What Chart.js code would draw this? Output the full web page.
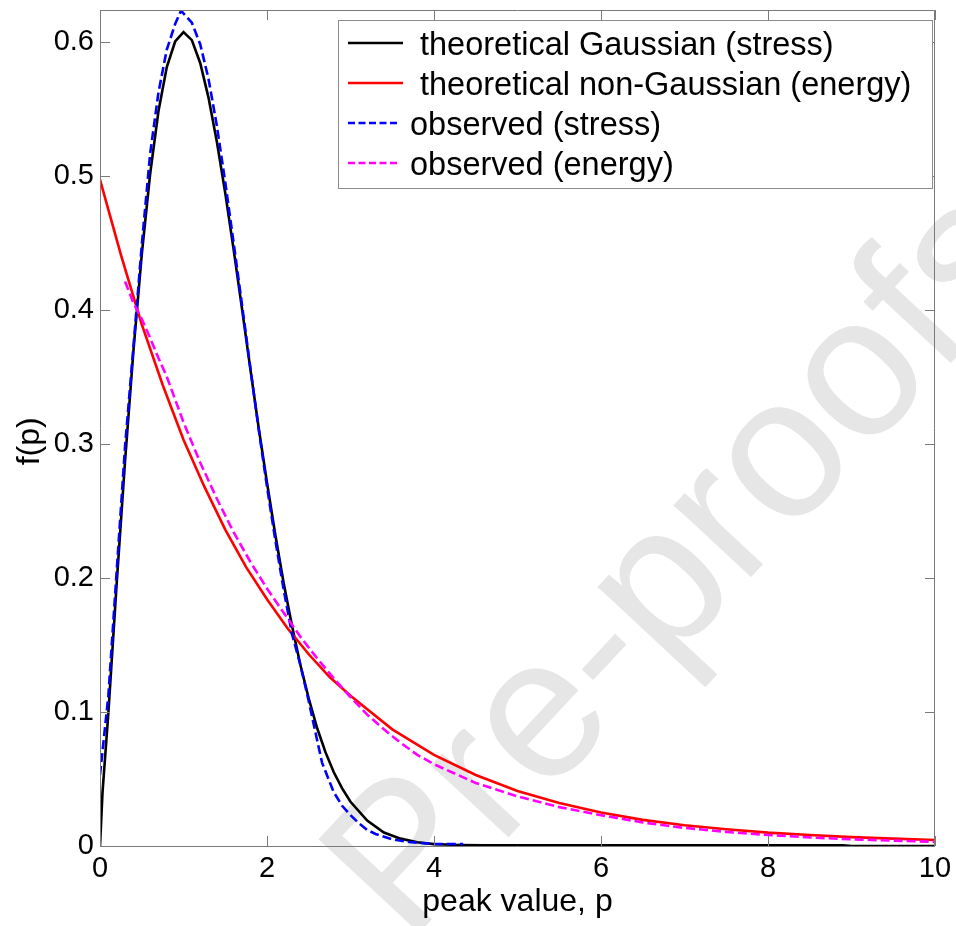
<!DOCTYPE html>
<html><head><meta charset="utf-8">
<script src="https://cdn.jsdelivr.net/npm/chart.js@4.4.0/dist/chart.umd.min.js"></script>
<style>html,body{margin:0;padding:0;background:#fff;}canvas{display:block;}</style>
</head><body>
<canvas id="c" width="956" height="926"></canvas>
<script>
// ---- data ----
const pTheoStress = [0,0.03,0.1,0.2,0.3,0.4,0.5,0.6,0.7,0.8,0.9,1.0,1.1,1.2,1.3,1.4,1.5,1.6,1.7,1.8,1.9,2.0,2.1,2.2,2.3,2.4,2.5,2.6,2.7,2.8,2.9,3.0,3.2,3.4,3.6,3.8,4.0,4.3,4.6,5.0,6.0,7.0,8.0,8.9,9.0,10];
const fTheoStress = [0,0.04,0.099,0.196,0.287,0.369,0.441,0.501,0.548,0.581,0.600,0.607,0.601,0.584,0.558,0.525,0.487,0.445,0.401,0.356,0.312,0.271,0.232,0.196,0.164,0.135,0.110,0.088,0.070,0.055,0.043,0.033,0.019,0.010,0.0055,0.0028,0.0014,0.0008,0.0006,0.0006,0.0006,0.0006,0.0006,0.0006,0,0];

const pTheoEnergy = [0,0.25,0.5,0.75,1.0,1.25,1.5,1.75,2.0,2.25,2.5,2.75,3.0,3.5,4.0,4.5,5.0,5.5,6.0,6.5,7.0,7.5,8.0,8.5,9.0,9.5,10];
const fTheoEnergy = [0.497,0.441,0.389,0.344,0.303,0.268,0.236,0.208,0.184,0.162,0.143,0.126,0.112,0.087,0.068,0.053,0.041,0.032,0.025,0.0195,0.0155,0.0125,0.0100,0.0082,0.0066,0.0055,0.0045];

const pObsStress = [0,0.1,0.2,0.3,0.4,0.5,0.6,0.7,0.8,0.9,0.97,1.1,1.2,1.3,1.4,1.5,1.6,1.7,1.8,1.9,2.0,2.1,2.2,2.3,2.4,2.5,2.6,2.66,2.8,2.9,3.0,3.1,3.2,3.3,3.5,3.7,4.0,4.35];
const fObsStress = [0.053,0.112,0.205,0.298,0.372,0.448,0.516,0.562,0.594,0.613,0.623,0.614,0.598,0.572,0.537,0.495,0.450,0.404,0.357,0.311,0.268,0.228,0.191,0.158,0.135,0.108,0.079,0.062,0.040,0.030,0.023,0.017,0.012,0.009,0.005,0.003,0.0015,0.0015];

const pObsEnergy = [0.3,0.4,0.5,0.6,0.7,0.8,1.0,1.2,1.4,1.6,1.8,2.0,2.2,2.4,2.6,2.8,3.0,3.2,3.4,3.6,3.8,4.0,4.5,5.0,5.5,6.0,6.5,7.0,7.5,8.0,8.5,9.0,9.5,10];
const fObsEnergy = [0.421,0.405,0.393,0.379,0.364,0.350,0.316,0.286,0.259,0.234,0.212,0.192,0.174,0.156,0.140,0.125,0.111,0.098,0.087,0.077,0.068,0.061,0.047,0.037,0.029,0.023,0.0175,0.0135,0.0105,0.0082,0.0064,0.0050,0.0040,0.0031];

const seriesLabels = ['theoretical Gaussian (stress)','theoretical non-Gaussian (energy)','observed (stress)','observed (energy)'];
const xTickStep = 2, yTickStep = 0.1;
const xTitle = 'peak value, p', yTitle = 'f(p)   ';
const watermark = 'Pre-proofs';

const zip = (xs, ys) => xs.map((x, i) => ({x, y: ys[i]}));
const FONT = '"Liberation Sans", Arial, sans-serif';

const bgAndMark = {
  id: 'bgAndMark',
  beforeDraw(chart) {
    const ctx = chart.ctx;
    ctx.save();
    ctx.fillStyle = '#fff';
    ctx.fillRect(0, 0, chart.width, chart.height);
    ctx.translate(408, 945);
    ctx.rotate(-47 * Math.PI / 180);
    ctx.fillStyle = '#e6e6e6';
    ctx.font = '200px ' + FONT;
    ctx.textBaseline = 'alphabetic';
    ctx.fillText(watermark, 0, 0);
    ctx.restore();
  }
};

const frameAndLegend = {
  id: 'frameAndLegend',
  afterDraw(chart) {
    const ctx = chart.ctx;
    const {left, right, top, bottom} = chart.chartArea;
    const xs = chart.scales.x, ys = chart.scales.y;
    ctx.save();
    ctx.strokeStyle = '#7a7a7a';
    ctx.lineWidth = 1;
    ctx.beginPath();
    ctx.rect(left + 0.5, top + 0.5, right - left - 1, bottom - top);
    xs.ticks.forEach(t => {
      const px = Math.round(xs.getPixelForValue(t.value)) + 0.5;
      ctx.moveTo(px, bottom); ctx.lineTo(px, bottom - 10);
      ctx.moveTo(px, top); ctx.lineTo(px, top + 10);
    });
    ys.ticks.forEach(t => {
      const py = Math.round(ys.getPixelForValue(t.value)) + 0.5;
      ctx.moveTo(left, py); ctx.lineTo(left + 10, py);
      ctx.moveTo(right, py); ctx.lineTo(right - 10, py);
    });
    ctx.stroke();

    // legend
    const bx = 338.5, by = 20.5, bw = 594, bh = 168;
    ctx.fillStyle = '#fff';
    ctx.fillRect(bx, by, bw, bh);
    ctx.strokeStyle = '#8c8c8c';
    ctx.strokeRect(bx, by, bw, bh);
    ctx.font = '32.5px ' + FONT;
    ctx.textBaseline = 'alphabetic';
    ctx.fillStyle = '#000';
    chart.data.datasets.forEach((ds, i) => {
      const y = 43 + 40 * i;
      const dashed = ds.borderDash && ds.borderDash.length;
      ctx.beginPath();
      ctx.strokeStyle = ds.borderColor;
      ctx.lineWidth = 2.6;
      ctx.setLineDash(dashed ? [7, 3.5] : []);
      ctx.moveTo(348, y);
      ctx.lineTo(dashed ? 400 : 403, y);
      ctx.stroke();
      ctx.setLineDash([]);
      ctx.fillText(ds.label, dashed ? 410 : 420, y + 12);
    });
    ctx.restore();
  }
};

const common = {pointRadius: 0, pointHoverRadius: 0, tension: 0, fill: false, borderWidth: 2.6};

new Chart(document.getElementById('c').getContext('2d'), {
  type: 'line',
  data: {
    datasets: [
      Object.assign({label: seriesLabels[0], data: zip(pTheoStress, fTheoStress), borderColor: '#000000', order: 4}, common),
      Object.assign({label: seriesLabels[1], data: zip(pTheoEnergy, fTheoEnergy), borderColor: '#ff0000', order: 3}, common),
      Object.assign({label: seriesLabels[2], data: zip(pObsStress, fObsStress), borderColor: '#0000ff', borderDash: [9, 4], order: 2}, common),
      Object.assign({label: seriesLabels[3], data: zip(pObsEnergy, fObsEnergy), borderColor: '#ff00ff', borderDash: [9, 4], order: 1}, common)
    ]
  },
  options: {
    responsive: false,
    animation: false,
    devicePixelRatio: 1,
    layout: {padding: {left: 0, top: 10, right: 21, bottom: 0}},
    plugins: {legend: {display: false}, tooltip: {enabled: false}},
    scales: {
      x: {
        type: 'linear', min: 0, max: 10,
        grid: {display: false, drawTicks: false}, border: {display: false},
        ticks: {stepSize: xTickStep, includeBounds: false, maxRotation: 0, autoSkip: false, padding: 6, color: '#000', font: {family: FONT, size: 29}},
        title: {display: true, text: xTitle, color: '#000', font: {family: FONT, size: 32}, padding: {top: 0, bottom: 5}},
        afterFit: s => { s.height = 80; s.paddingLeft = 0; s.paddingRight = 0; }
      },
      y: {
        type: 'linear', min: 0, max: 0.6235,
        grid: {display: false, drawTicks: false}, border: {display: false},
        ticks: {stepSize: yTickStep, includeBounds: false, autoSkip: false, padding: 6, color: '#000', font: {family: FONT, size: 29}},
        title: {display: true, text: yTitle, color: '#000', font: {family: FONT, size: 32}, padding: {top: 11, bottom: 0}},
        afterFit: s => { s.width = 100; s.paddingTop = 0; s.paddingBottom = 0; }
      }
    }
  },
  plugins: [bgAndMark, frameAndLegend]
});
</script>
</body></html>
